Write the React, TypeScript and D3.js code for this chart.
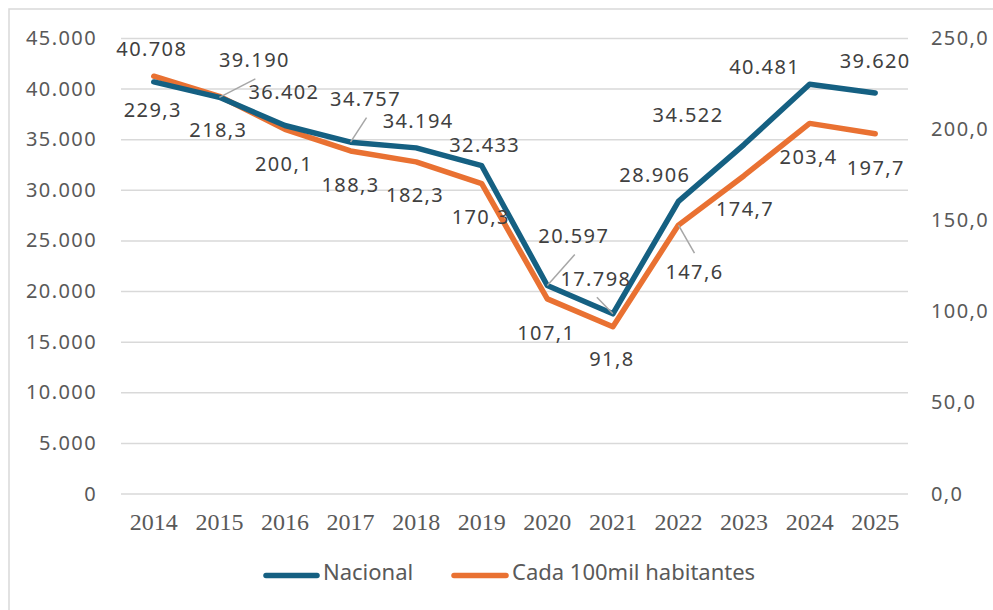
import React from "react";
import * as d3 from "d3";

const years = ["2014","2015","2016","2017","2018","2019","2020","2021","2022","2023","2024","2025"];
const nacional = [40708, 39190, 36402, 34757, 34194, 32433, 20597, 17798, 28906, 34522, 40481, 39620];
const cada100mil = [229.3, 218.3, 200.1, 188.3, 182.3, 170.3, 107.1, 91.8, 147.6, 174.7, 203.4, 197.7];
const leftTicks = [0, 5000, 10000, 15000, 20000, 25000, 30000, 35000, 40000, 45000];
const rightTicks = [0, 50, 100, 150, 200, 250];
const seriesNames = ["Nacional", "Cada 100mil habitantes"];

// label layout (offsets from each point)
const natLabelOffsets: [number, number][] = [
  [-2, -26], [35, -30], [-1, -26.5], [15, -36], [2, -20], [3, -14],
  [26.5, -42.5], [-17, -28], [-23.6, -19], [-56, -22.6], [-45, -10], [0, -25],
];
const natLeader = [false, true, false, true, false, false, true, true, false, false, false, false];
const rateLabelOffsets: [number, number][] = [
  [-1, 41], [-1, 41], [-1, 41.6], [0, 41], [-1, 40], [-1, 40],
  [-1, 41], [-1, 39], [16, 54], [1, 40], [-1, 41], [0.6, 41],
];
const rateLeader = [false, false, false, false, false, false, false, false, true, false, false, false];

const locale = d3.formatLocale({ decimal: ",", thousands: ".", grouping: [3], currency: ["", ""] });
const fmtInt = locale.format(",");
const fmtDec = locale.format(",.1f");

const BLUE = "#156082";
const ORANGE = "#E97132";
const GRID = "#d9d9d9";
const TXT = "#595959";
const LBL = "#404040";
const SANS = "'Noto Sans', sans-serif";

export default function App() {
  const x = d3.scalePoint<string>().domain(years).range([121, 908]).padding(0.5);
  const yL = d3.scaleLinear().domain([0, 45000]).range([494, 38.5]);
  const yR = d3.scaleLinear().domain([0, 250]).range([494, 38.5]);

  const lineL = d3.line<number>().x((_, i) => x(years[i])!).y((d) => yL(d));
  const lineR = d3.line<number>().x((_, i) => x(years[i])!).y((d) => yR(d));

  const labelStyle: React.CSSProperties = { fontFamily: SANS, fontSize: 20, letterSpacing: 1.4, fill: LBL };

  return (
    <svg width={993} height={610} style={{ position: "absolute", left: 0, top: 0, background: "#fff" }}>
      <rect x={0} y={0} width={993} height={610} fill="#fff" />
      <rect x={9} y={9} width={1100} height={700} fill="#fff" stroke={GRID} strokeWidth={1.5} />
      {leftTicks.map((t) => (
        <line key={"g" + t} x1={121} x2={908} y1={yL(t)} y2={yL(t)} stroke={GRID} strokeWidth={1.5} />
      ))}
      {leftTicks.map((t) => (
        <text key={"l" + t} x={97} y={yL(t) + 6.5} textAnchor="end" style={{ ...labelStyle, fill: TXT }}>
          {fmtInt(t)}
        </text>
      ))}
      {rightTicks.map((t) => (
        <text key={"r" + t} x={931} y={yR(t) + 6.5} textAnchor="start" style={{ ...labelStyle, fill: TXT }}>
          {fmtDec(t)}
        </text>
      ))}
      {years.map((yr) => (
        <text key={yr} x={x(yr)!} y={530} textAnchor="middle"
          style={{ fontFamily: "'Liberation Serif', 'Times New Roman', serif", fontSize: 24, fill: TXT }}>
          {yr}
        </text>
      ))}
      <path d={lineR(cada100mil)!} fill="none" stroke={ORANGE} strokeWidth={5.5} strokeLinejoin="round" strokeLinecap="round" />
      <path d={lineL(nacional)!} fill="none" stroke={BLUE} strokeWidth={5.5} strokeLinejoin="round" strokeLinecap="round" />

      {nacional.map((v, i) => {
        const px = x(years[i])!;
        const py = yL(v);
        const lx = px + natLabelOffsets[i][0];
        const ly = py + natLabelOffsets[i][1];
        return (
          <g key={"n" + i}>
            {natLeader[i] && (
              <line x1={lx + 1} y1={ly + 11.5} x2={px} y2={py} stroke="#a6a6a6" strokeWidth={1.5} />
            )}
            <text x={lx} y={ly} textAnchor="middle" style={labelStyle}>{fmtInt(v)}</text>
          </g>
        );
      })}
      {cada100mil.map((v, i) => {
        const px = x(years[i])!;
        const py = yR(v);
        const lx = px + rateLabelOffsets[i][0];
        const ly = py + rateLabelOffsets[i][1];
        return (
          <g key={"c" + i}>
            {rateLeader[i] && (
              <line x1={lx} y1={ly - 26} x2={px} y2={py} stroke="#a6a6a6" strokeWidth={1.5} />
            )}
            <text x={lx} y={ly} textAnchor="middle" style={labelStyle}>{fmtDec(v)}</text>
          </g>
        );
      })}

      <line x1={266} x2={317} y1={575.5} y2={575.5} stroke={BLUE} strokeWidth={5.5} strokeLinecap="round" />
      <text x={323} y={580} style={{ fontFamily: SANS, fontSize: 22, fill: TXT }}>{seriesNames[0]}</text>
      <line x1={454} x2={506} y1={575.5} y2={575.5} stroke={ORANGE} strokeWidth={5.5} strokeLinecap="round" />
      <text x={512} y={580} style={{ fontFamily: SANS, fontSize: 22, fill: TXT }}>{seriesNames[1]}</text>
    </svg>
  );
}
